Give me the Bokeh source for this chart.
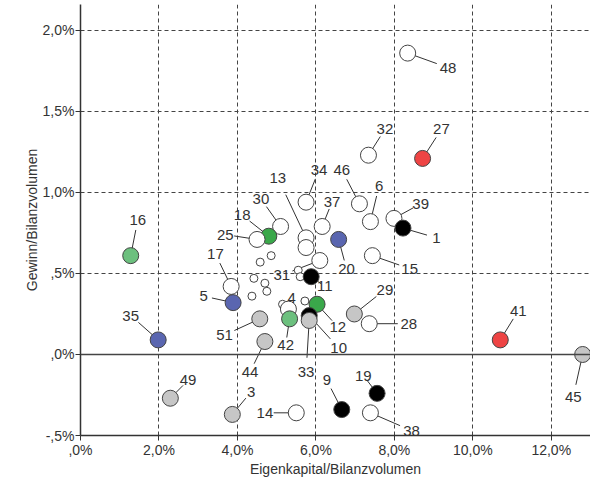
from bokeh.plotting import figure
from bokeh.models import FixedTicker, Span
from bokeh.core.properties import value
from bokeh.embed import file_html
from bokeh.resources import INLINE

eq = [8.34,8.72,7.34,1.28,5.75,7.11,7.39,7.99,8.22,6.16,5.10,4.80,4.50,5.75,5.75,6.58,7.44,6.10,3.84,5.88,3.89,5.30,6.03,6.98,7.36,4.57,5.33,5.83,5.83,4.70,1.98,10.70,12.80,2.29,3.87,5.50,6.66,7.56,7.39]
roa = [1.86,1.21,1.23,0.61,0.94,0.93,0.82,0.84,0.78,0.79,0.79,0.73,0.71,0.72,0.66,0.71,0.61,0.58,0.42,0.48,0.32,0.28,0.31,0.25,0.19,0.22,0.22,0.24,0.21,0.08,0.09,0.09,0.00,-0.27,-0.37,-0.36,-0.34,-0.24,-0.36]
grp = ["w","r","w","lg","w","w","w","w","k","w","w","g","w","w","w","b","w","w","w","k","b","w","g","gr","w","gr","lg","k","gr","gr","b","r","gr","gr","gr","w","k","k","w"]
lab_x = [9.37,9.2,7.76,1.46,6.08,6.66,7.61,8.67,9.07,6.41,4.6,4.12,3.69,5.03,None,6.78,8.39,5.13,3.44,6.23,3.14,5.38,6.56,7.76,8.37,3.67,5.23,6.58,5.75,4.32,1.28,11.16,12.56,2.74,4.35,4.7,6.28,7.21,8.44]
lab_y = [1.77,1.39,1.39,0.83,1.14,1.14,1.04,0.93,0.72,0.94,0.96,0.86,0.74,1.09,None,0.53,0.53,0.49,0.62,0.42,0.36,0.35,0.17,0.4,0.19,0.12,0.06,0.04,-0.11,-0.11,0.24,0.27,-0.26,-0.16,-0.23,-0.36,-0.16,-0.13,-0.47]
lab_txt = ["48","27","32","16","34","46","6","39","1","37","30","18","25","13","","20","15","31","17","11","5","4","12","29","28","51","42","10","33","44","35","41","45","49","3","14","9","19","38"]
small_x = [4.86,4.58,4.42,4.70,4.75,4.37,5.55,5.60,5.72,5.15]
small_y = [0.61,0.57,0.47,0.44,0.39,0.36,0.52,0.48,0.33,0.31]
x_ticks = [0, 2, 4, 6, 8, 10, 12]
x_tick_labels = [",0%", "2,0%", "4,0%", "6,0%", "8,0%", "10,0%", "12,0%"]
y_ticks = [-0.5, 0, 0.5, 1, 1.5, 2]
y_tick_labels = ["-,5%", ",0%", ",5%", "1,0%", "1,5%", "2,0%"]

colors = {"w":"#ffffff","r":"#ee4444","lg":"#6cc07e","g":"#3aa84a","k":"#000000","b":"#5a66b0","gr":"#c6c6c6"}
FONT = value("Liberation Sans")

p = figure(width=590, height=479, x_range=(0, 13.0), y_range=(-0.5, 2.16),
           output_backend="svg", toolbar_location=None,
           min_border_left=80, min_border_right=0, min_border_top=4, min_border_bottom=20)
p.outline_line_color = None

p.xaxis.ticker = FixedTicker(ticks=x_ticks)
p.yaxis.ticker = FixedTicker(ticks=y_ticks)
p.xaxis.major_label_overrides = dict(zip(x_ticks, x_tick_labels))
p.yaxis.major_label_overrides = dict(zip(y_ticks, y_tick_labels))
for ax in (p.xaxis, p.yaxis):
    ax.major_label_text_font = "Liberation Sans"
    ax.major_label_text_font_size = "14px"
    ax.major_label_text_color = "#333333"
    ax.axis_label_text_font = "Liberation Sans"
    ax.axis_label_text_font_size = "14px"
    ax.axis_label_text_font_style = "normal"
    ax.axis_label_text_color = "#333333"
    ax.axis_line_color = "#333333"
    ax.axis_line_width = 1.5
    ax.major_tick_line_color = "#333333"
    ax.major_tick_in = 0
    ax.major_tick_out = 5
    ax.minor_tick_line_color = None
    ax.major_label_standoff = 1
    ax.axis_label_standoff = 0
p.xaxis.axis_label = "Eigenkapital/Bilanzvolumen"
p.yaxis.axis_label = "Gewinn/Bilanzvolumen"
for g in (p.xgrid, p.ygrid):
    g.grid_line_color = "#444444"
    g.grid_line_dash = "4 3"
    g.grid_line_width = 1
p.xgrid.ticker = FixedTicker(ticks=x_ticks[1:])
p.ygrid.ticker = FixedTicker(ticks=y_ticks[2:])
p.add_layout(Span(location=0, dimension="width", line_color="#444444", line_width=1.5))

x0s, y0s, x1s, y1s = [], [], [], []
for x, y, lx, ly in zip(eq, roa, lab_x, lab_y):
    if lx is None:
        continue
    x0s.append(x); y0s.append(y)
    x1s.append(x + 0.72 * (lx - x)); y1s.append(y + 0.72 * (ly - y))
p.segment(x0s, y0s, x1s, y1s, line_color="#333333", line_width=1)

p.scatter(small_x, small_y, size=8, fill_color="white", line_color="#444444", line_width=1)
p.scatter(eq, roa, size=16, fill_color=[colors[g] for g in grp], line_color="#444444", line_width=1)

tx = [a for a in lab_x if a is not None]
ty = [b for b in lab_y if b is not None]
tt = [t for t, a in zip(lab_txt, lab_x) if a is not None]
p.text(tx, ty, text=tt, text_font=FONT, text_font_size="15px", text_color="#333333",
       text_align="center", text_baseline="middle")

open("out.html", "w").write(file_html(p, INLINE))
